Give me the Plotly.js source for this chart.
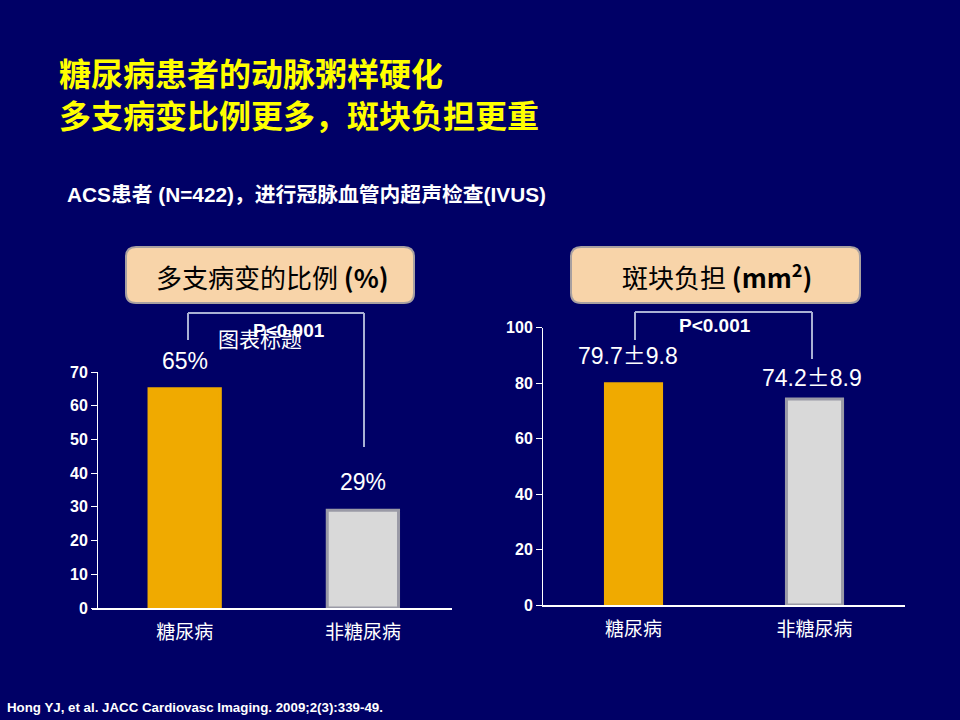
<!DOCTYPE html>
<html>
<head>
<meta charset="utf-8">
<script src="https://cdn.plot.ly/plotly-3.0.1.min.js"></script>
<style>
  html, body { margin: 0; padding: 0; background: #000066; }
  #chart { width: 960px; height: 720px; }
</style>
</head>
<body>
<div id="chart"></div>
<script>
// data
var categories = ['糖尿病', '非糖尿病'];
var multiVesselPct = [65, 29];
var multiVesselLabels = ['65%', '29%'];
var plaqueBurden = [79.7, 74.2];
var plaqueMean = ['79.7', '74.2'];
var plaqueSD = ['9.8', '8.9'];
var barColors = ['#f0aa00', '#d9d9d9'];
var barBorders = ['#f0aa00', '#9a9aa6'];

var CJK = '"Noto Sans CJK SC", "Liberation Sans", Arial, sans-serif';
var ARIAL = '"Liberation Sans", Arial, "Noto Sans CJK SC", sans-serif';

// pixel -> paper helpers (page is 960x720, no margins)
function px(x) { return x / 960; }
function py(y) { return 1 - y / 720; }

function roundBox(x0, y0, x1, y1, r) {
    var p = function (x, y) { return px(x) + ',' + py(y); };
    return 'M' + p(x0 + r, y0) +
        ' L' + p(x1 - r, y0) + ' Q' + p(x1, y0) + ' ' + p(x1, y0 + r) +
        ' L' + p(x1, y1 - r) + ' Q' + p(x1, y1) + ' ' + p(x1 - r, y1) +
        ' L' + p(x0 + r, y1) + ' Q' + p(x0, y1) + ' ' + p(x0, y1 - r) +
        ' L' + p(x0, y0 + r) + ' Q' + p(x0, y0) + ' ' + p(x0 + r, y0) + ' Z';
}

function pline(x0, y0, x1, y1) {
    return {
        type: 'line', xref: 'paper', yref: 'paper',
        x0: px(x0), y0: py(y0), x1: px(x1), y1: py(y1),
        line: { color: '#a9b0d4', width: 2 }
    };
}

function ptext(x, y, text, font, anchor) {
    return {
        xref: 'paper', yref: 'paper', x: px(x), y: py(y),
        xanchor: anchor || 'center', yanchor: 'middle',
        text: text, showarrow: false, font: font
    };
}

var trace1 = {
    x: categories,
    y: multiVesselPct,
    type: 'bar',
    width: 0.4,
    xaxis: 'x', yaxis: 'y',
    marker: { color: barColors, line: { color: barBorders, width: 3 } },
    hoverinfo: 'none'
};

var trace2 = {
    x: categories,
    y: plaqueBurden,
    type: 'bar',
    width: 0.31,
    xaxis: 'x2', yaxis: 'y2',
    marker: { color: barColors, line: { color: barBorders, width: 3 } },
    hoverinfo: 'none'
};

var annotations = [];
var yellowTitle = { family: CJK, size: 32, color: '#ffff00', weight: 'bold' };

// titulo
annotations.push(ptext(57, 72, '糖尿病患者的动脉粥样硬化', yellowTitle, 'left'));
annotations.push(ptext(57, 114, '多支病变比例更多，斑块负担更重', yellowTitle, 'left'));
annotations.push(ptext(65, 195, 'ACS患者 (N=422)，进行冠脉血管内超声检查(IVUS)',
    { family: ARIAL, size: 20.8, color: '#ffffff', weight: 'bold' }, 'left'));

// cajas
annotations.push(ptext(272, 276, '多支病变的比例 <b>(%)</b>', { family: CJK, size: 26, color: '#000000' }));
annotations.push(ptext(717, 275, '斑块负担 <b>(mm<sup>2</sup>)</b>', { family: CJK, size: 26, color: '#000000' }));

// p values
var pFont = { family: ARIAL, size: 19, color: '#ffffff', weight: 'bold' };
annotations.push(ptext(289, 331, 'P<0.001', pFont));
annotations.push(ptext(260, 338, '图表标题', { family: CJK, size: 21, color: '#ffffff' }));
annotations.push(ptext(715, 326, 'P<0.001', pFont));

// etiquetas de valor
categories.forEach(function (c, i) {
    annotations.push({
        xref: 'x', yref: 'y', x: c, y: multiVesselPct[i], yshift: 28,
        text: multiVesselLabels[i], showarrow: false,
        font: { family: ARIAL, size: 23, color: '#ffffff' }
    });
    annotations.push({
        xref: 'x2', yref: 'y2', x: c, y: plaqueBurden[i], yshift: i === 0 ? 30 : 23,
        xshift: i === 0 ? -6 : -3,
        text: plaqueMean[i] + '<span style="font-family:Noto Sans CJK SC">±</span>' + plaqueSD[i],
        showarrow: false,
        font: { family: ARIAL, size: 23, color: '#ffffff' }
    });
});

// referencia
annotations.push(ptext(5, 707, 'Hong YJ, et al. JACC Cardiovasc Imaging. 2009;2(3):339-49.',
    { family: ARIAL, size: 13.3, color: '#ffffff', weight: 'bold' }, 'left'));

var shapes = [
    { type: 'path', xref: 'paper', yref: 'paper', path: roundBox(126, 247, 414, 303, 10),
      fillcolor: '#f8d4a9', line: { color: '#a8a0a0', width: 2 }, layer: 'below' },
    { type: 'path', xref: 'paper', yref: 'paper', path: roundBox(571, 247, 860, 303, 10),
      fillcolor: '#f8d4a9', line: { color: '#a8a0a0', width: 2 }, layer: 'below' },
    pline(188, 313, 364, 313), pline(188, 313, 188, 340), pline(364, 313, 364, 447),
    pline(635, 312, 812, 312), pline(635, 312, 635, 340), pline(812, 312, 812, 359)
];

var yaxisBase = {
    showline: true, linecolor: '#ffffff', linewidth: 1,
    ticks: 'outside', ticklen: 6, tickcolor: '#ffffff', tickwidth: 1,
    showgrid: false, zeroline: false,
    tickfont: { family: ARIAL, size: 16, color: '#ffffff', weight: 'bold' },
    fixedrange: true
};
var xaxisBase = {
    showline: true, linecolor: '#ffffff', linewidth: 1.5,
    ticks: '', showgrid: false, zeroline: false,
    tickfont: { family: CJK, size: 19, color: '#ffffff' },
    ticklabelstandoff: 7,
    fixedrange: true
};

var layout = {
    width: 960,
    height: 720,
    margin: { t: 0, b: 0, l: 0, r: 0 },
    paper_bgcolor: '#000066',
    plot_bgcolor: 'rgba(0,0,0,0)',
    showlegend: false,
    xaxis: Object.assign({}, xaxisBase, { domain: [px(92), px(452)], range: [-0.52, 1.5], anchor: 'y' }),
    yaxis: Object.assign({}, yaxisBase, { domain: [py(608), py(372)], range: [0, 70], dtick: 10,
        anchor: 'free', position: px(97) }),
    xaxis2: Object.assign({}, xaxisBase, { domain: [px(543), px(905)], range: [-0.5, 1.5], anchor: 'y2' }),
    yaxis2: Object.assign({}, yaxisBase, { domain: [py(605), py(327.5)], range: [0, 100], dtick: 20,
        anchor: 'x2' }),
    annotations: annotations,
    shapes: shapes
};

Plotly.newPlot('chart', [trace1, trace2], layout, { displayModeBar: false, staticPlot: true });
</script>
</body>
</html>
